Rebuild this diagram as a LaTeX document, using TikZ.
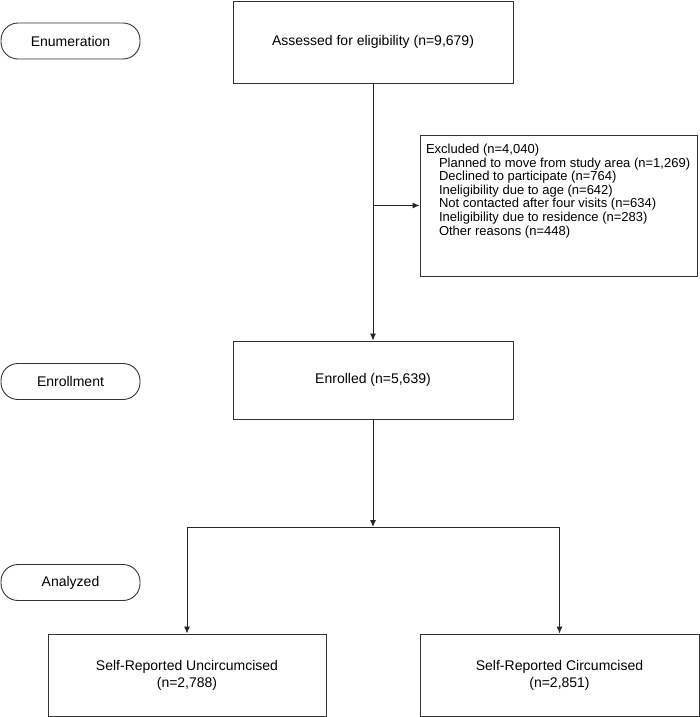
\documentclass[tikz,border=0pt]{standalone}
\usepackage{fontspec}
\setmainfont{Liberation Sans}
\usetikzlibrary{arrows.meta}
\tikzset{
  flowbox/.style={draw=black!80, line width=0.9pt, minimum width=280pt, minimum height=82pt, inner sep=2pt, align=center, font=\fontsize{14}{17}\selectfont},
  stagebox/.style={draw=black!80, line width=0.9pt, rounded corners=17pt, minimum width=139pt, minimum height=36pt, font=\fontsize{14}{17}\selectfont},
  exclbox/.style={draw=black!80, line width=0.9pt, inner xsep=6pt, inner ysep=9pt, font=\fontsize{13}{13.6}\selectfont},
  arr/.style={-{Latex[length=7pt,width=6pt]}, line width=0.9pt, draw=black!85},
  link/.style={line width=0.9pt, draw=black!85}
}
\begin{document}
\begin{tikzpicture}[x=1pt,y=-1pt]
\useasboundingbox (0,0) rectangle (700,717);
% stage labels
\node[stagebox] (enum) at (70.5,41) {Enumeration};
\node[stagebox] (enrl) at (70.5,381.5) {Enrollment};
\node[stagebox] (anal) at (70.5,582.5) {Analyzed};
% flow boxes
\node[flowbox] (assess) at (373,42) {Assessed for eligibility (n=9,679)};
\node[exclbox] (excl) at (558.5,205.5) {\begin{minipage}[t][123pt][t]{265pt}
Excluded (n=4,040)\\
\hspace*{13pt}Planned to move from study area (n=1,269)\\
\hspace*{13pt}Declined to participate (n=764)\\
\hspace*{13pt}Ineligibility due to age (n=642)\\
\hspace*{13pt}Not contacted after four visits (n=634)\\
\hspace*{13pt}Ineligibility due to residence (n=283)\\
\hspace*{13pt}Other reasons (n=448)
\end{minipage}};
\node[flowbox, minimum height=78pt] (enrol) at (373,380) {Enrolled (n=5,639)};
\node[flowbox, minimum width=278pt] (uncirc) at (187,675) {Self-Reported Uncircumcised\\(n=2,788)};
\node[flowbox, minimum width=279pt] (circ) at (559.5,675) {Self-Reported Circumcised\\(n=2,851)};
% connectors
\coordinate (fork) at (373,527);
\draw[arr] (assess) -- (enrol);
\draw[arr] (assess.south |- excl.west) -- (excl.west);
\draw[arr] (enrol) -- (fork);
\draw[link] (fork -| uncirc) -- (fork -| circ);
\draw[arr] (fork -| uncirc) -- (uncirc);
\draw[arr] (fork -| circ) -- (circ);
\end{tikzpicture}
\end{document}
